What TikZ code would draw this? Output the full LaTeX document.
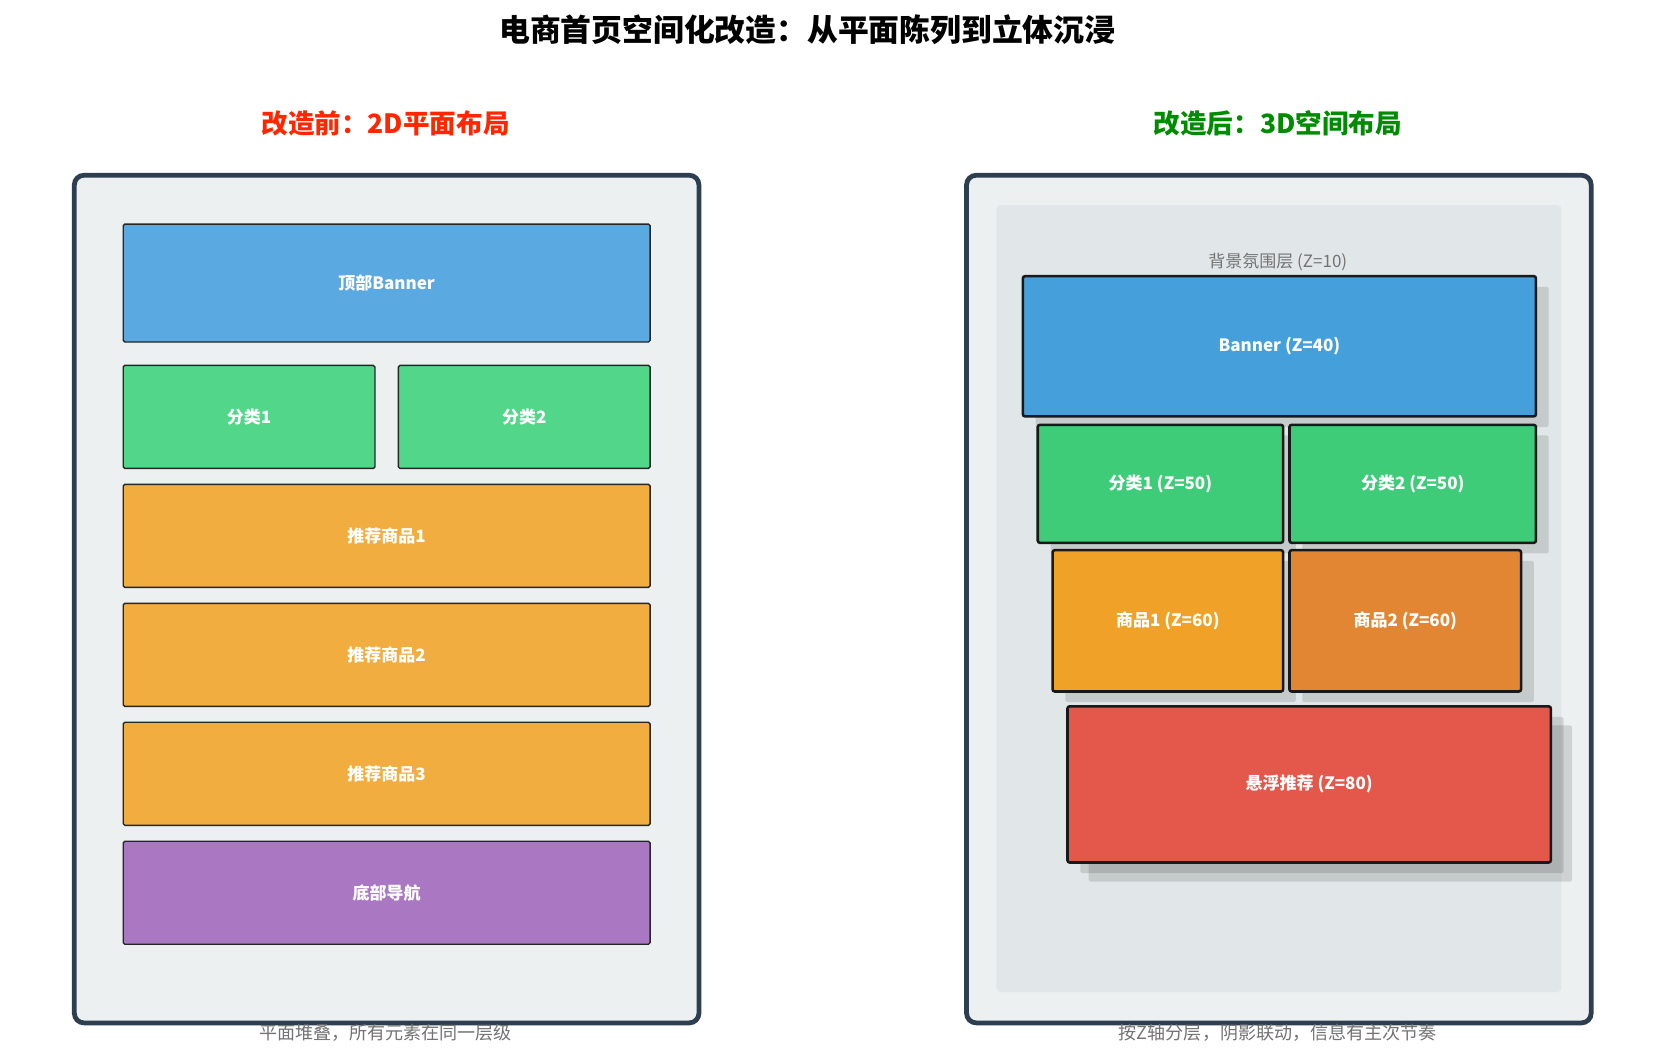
\documentclass[tikz,border=0pt]{standalone}
\usepackage{fontspec}
\setmainfont{Noto Sans CJK SC}
\usetikzlibrary{shadows}

\definecolor{panelbg}{HTML}{ECF0F1}
\definecolor{panelline}{HTML}{2C3E50}
\definecolor{innerbg}{HTML}{E1E7E8}

\tikzset{
  panel/.style={draw=panelline,line width=4.5pt,fill=panelbg,rounded corners=9pt,minimum width=588pt,minimum height=798pt,inner sep=0pt},
  flat/.style={draw=black!85,line width=1.3pt,rounded corners=1.5pt,text=white,font=\fontsize{16}{18}\selectfont\bfseries,inner sep=0pt,outer sep=0pt},
  layer/.style={draw=black!90,line width=2.4pt,rounded corners=2pt,text=white,font=\fontsize{16}{18}\selectfont\bfseries,inner sep=0pt,outer sep=0pt,
    drop shadow={shadow xshift=12pt,shadow yshift=-10pt,opacity=.12,fill=black}},
  note/.style={text=black!55,font=\fontsize{17}{19}\selectfont},
}

\begin{document}
\begin{tikzpicture}[x=1pt,y=-1pt]
\useasboundingbox[fill=white] (0,0) rectangle (1560,993);

\node[font=\fontsize{29}{32}\selectfont\bfseries] (title) at (760,28) {电商首页空间化改造：从平面陈列到立体沉浸};
\node[font=\fontsize{25}{28}\selectfont\bfseries,text=red!70!orange] (hleft) at (363,116) {改造前：2D平面布局};
\node[font=\fontsize{25}{28}\selectfont\bfseries,text=green!55!black] (hright) at (1203,116) {改造后：3D空间布局};

%left panel
\node[panel] (pleft) at (364,564) {};
\node[flat,fill={rgb,255:red,90;green,169;blue,224},minimum width=496pt,minimum height=111pt] (banner) at (364,266.5) {顶部Banner};
\node[flat,fill={rgb,255:red,82;green,214;blue,138},minimum width=237pt,minimum height=97pt] (cat1) at (234.5,392.5) {分类1};
\node[flat,fill={rgb,255:red,82;green,214;blue,138},minimum width=237pt,minimum height=97pt] (cat2) at (493.5,392.5) {分类2};
\foreach \i/\y in {1/504.5,2/616.5,3/728.5}
  \node[flat,fill={rgb,255:red,241;green,173;blue,64},minimum width=496pt,minimum height=97pt] (rec\i) at (364,\y) {推荐商品\i};
\node[flat,fill={rgb,255:red,170;green,120;blue,194},minimum width=496pt,minimum height=97pt] (nav) at (364,840.5) {底部导航};
\node[note] (capleft) at (363,972) {平面堆叠，所有元素在同一层级};

%right panel
\node[panel] (pright) at (1204,564) {};
\node[fill=innerbg,rounded corners=4pt,minimum width=532pt,minimum height=741pt,inner sep=0pt] (bglayer) at (1204,563.5) {};
\node[note,font=\fontsize{16}{18}\selectfont] (bgtext) at (1203,247) {背景氛围层 (Z=10)};
\node[layer,fill={rgb,255:red,68;green,159;blue,218},minimum width=483pt,minimum height=132pt] (zbanner) at (1204.5,326) {Banner (Z=40)};
\node[layer,fill={rgb,255:red,63;green,204;blue,121},minimum width=231pt,minimum height=111pt] (zcat1) at (1092.5,455.5) {分类1 (Z=50)};
\node[layer,fill={rgb,255:red,63;green,204;blue,121},minimum width=232pt,minimum height=111pt] (zcat2) at (1330,455.5) {分类2 (Z=50)};
\node[layer,fill={rgb,255:red,239;green,161;blue,40},minimum width=217pt,minimum height=133pt] (zgood1) at (1099.5,584.5) {商品1 (Z=60)};
\node[layer,fill={rgb,255:red,227;green,134;blue,52},minimum width=218pt,minimum height=133pt] (zgood2) at (1323,584.5) {商品2 (Z=60)};
\node[layer,fill={rgb,255:red,228;green,87;blue,75},minimum width=455pt,minimum height=147pt,
  drop shadow={shadow xshift=20pt,shadow yshift=-18pt,opacity=.12,fill=black}] (zfloat) at (1232.5,738.5) {悬浮推荐 (Z=80)};
\node[note] (capright) at (1203,972) {按Z轴分层，阴影联动，信息有主次节奏};
\end{tikzpicture}
\end{document}
